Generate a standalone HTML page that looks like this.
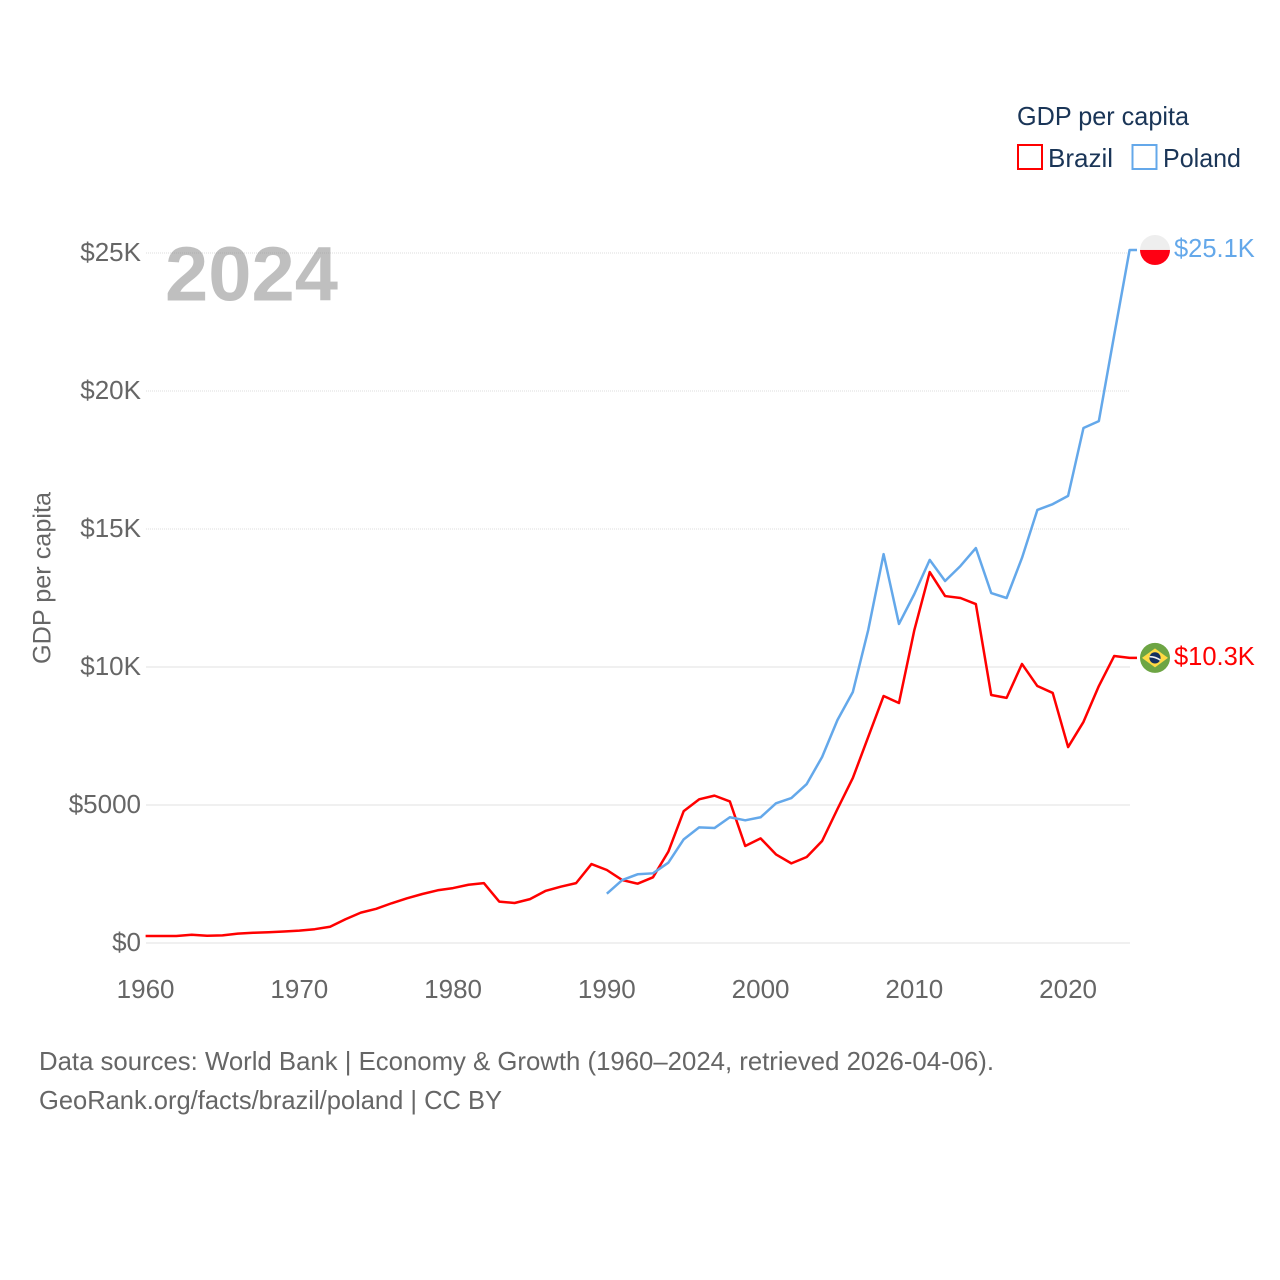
<!DOCTYPE html>
<html lang="en">
<head>
<meta charset="utf-8">
<title>GDP per capita: Brazil and Poland</title>
<style>
  html, body { margin: 0; padding: 0; background: #ffffff; }
  svg { display: block; font-family: "Liberation Sans", sans-serif; }
</style>
</head>
<body>
<svg id="chart" xmlns="http://www.w3.org/2000/svg" width="1280" height="1280" viewBox="0 0 1280 1280">
  <rect x="0" y="0" width="1280" height="1280" fill="#ffffff"/>
  <g id="grid"></g>
  <text x="165" y="300.5" font-size="77" font-weight="700" fill="#808080" fill-opacity="0.5" textLength="173" lengthAdjust="spacingAndGlyphs">2024</text>
  <g id="y-ticks"></g>
  <g id="x-ticks"></g>
  <text transform="translate(50.5 578) rotate(-90)" text-anchor="middle" font-size="25" fill="#666666" textLength="172" lengthAdjust="spacingAndGlyphs">GDP per capita</text>
  <g id="series"></g>
  <g>
    <text x="1017" y="125" font-size="26" fill="#1a3557" textLength="172" lengthAdjust="spacingAndGlyphs">GDP per capita</text>
    <rect x="1018" y="145" width="24" height="24" fill="none" stroke="#ff0000" stroke-width="2"/>
    <text x="1048" y="167" font-size="26" fill="#1a3557" textLength="65" lengthAdjust="spacingAndGlyphs">Brazil</text>
    <rect x="1132.5" y="145" width="24" height="24" fill="none" stroke="#64a8ea" stroke-width="2"/>
    <text x="1163" y="167" font-size="26" fill="#1a3557" textLength="78" lengthAdjust="spacingAndGlyphs">Poland</text>
  </g>
  <defs>
    <clipPath id="clip-poland"><circle cx="0" cy="0" r="15"/></clipPath>
  </defs>
  <g id="flag-poland">
    <g clip-path="url(#clip-poland)">
      <rect x="-15" y="-15" width="30" height="15" fill="#eeeeee"/>
      <rect x="-15" y="0" width="30" height="15" fill="#ff0013"/>
    </g>
  </g>
  <g id="flag-brazil">
    <circle cx="0" cy="0" r="15" fill="#6da544"/>
    <polygon points="-13,0 0,-9.5 13,0 0,9.5" fill="#ffda44"/>
    <circle cx="0" cy="0" r="5.6" fill="#14305f"/>
    <path d="M-5.4,-1.2 Q0,-1.4 5.2,2.2" fill="none" stroke="#f0f0f0" stroke-width="1.6"/>
  </g>
  <text id="label-poland" font-size="25.5" fill="#64a8ea"></text>
  <text id="label-brazil" font-size="25.5" fill="#ff0000"></text>
  <g>
    <text x="39" y="1070" font-size="26" fill="#666666" textLength="955" lengthAdjust="spacingAndGlyphs">Data sources: World Bank | Economy &amp; Growth (1960–2024, retrieved 2026-04-06).</text>
    <text x="39" y="1109" font-size="26" fill="#666666" textLength="463" lengthAdjust="spacingAndGlyphs">GeoRank.org/facts/brazil/poland | CC BY</text>
  </g>
</svg>
<script>
const brazilYears = [1960,1961,1962,1963,1964,1965,1966,1967,1968,1969,1970,1971,1972,1973,1974,1975,1976,1977,1978,1979,1980,1981,1982,1983,1984,1985,1986,1987,1988,1989,1990,1991,1992,1993,1994,1995,1996,1997,1998,1999,2000,2001,2002,2003,2004,2005,2006,2007,2008,2009,2010,2011,2012,2013,2014,2015,2016,2017,2018,2019,2020,2021,2022,2023,2024];
const brazilValues = [254,254,254,300,265,275,340,370,390,415,450,500,590,860,1100,1240,1440,1620,1775,1910,1990,2110,2170,1500,1450,1590,1885,2040,2170,2860,2645,2280,2150,2380,3310,4780,5205,5340,5130,3515,3790,3210,2885,3115,3695,4855,5980,7465,8950,8695,11340,13440,12570,12500,12280,8985,8880,10110,9310,9060,7100,8010,9310,10400,10330];
const polandYears = [1990,1991,1992,1993,1994,1995,1996,1997,1998,1999,2000,2001,2002,2003,2004,2005,2006,2007,2008,2009,2010,2011,2012,2013,2014,2015,2016,2017,2018,2019,2020,2021,2022,2023,2024];
const polandValues = [1786,2280,2490,2525,2910,3755,4190,4165,4555,4445,4555,5060,5250,5760,6740,8080,9095,11340,14090,11560,12645,13880,13115,13660,14310,12680,12500,13950,15690,15900,16200,18660,18910,22030,25110];
const yTickValues = [0,5000,10000,15000,20000,25000];
const yTickLabels = ["$0","$5000","$10K","$15K","$20K","$25K"];
const xTickValues = [1960,1970,1980,1990,2000,2010,2020];

const SVG_NS = "http://www.w3.org/2000/svg";
function xScale(year) { return 145.6 + (year - 1960) * (1129.6 - 145.6) / (2024 - 1960); }
function yScale(value) { return 943 - value * (943 - 253) / 25000; }
function make(tag, attrs, parent) {
  const el = document.createElementNS(SVG_NS, tag);
  for (const k in attrs) el.setAttribute(k, attrs[k]);
  parent.appendChild(el);
  return el;
}
function endLabel(v) { return "$" + (v / 1000).toFixed(1) + "K"; }

const gridGroup = document.getElementById("grid");
const yGroup = document.getElementById("y-ticks");
yTickValues.forEach(function (v, i) {
  const faint = v > 10000;
  const line = make("line", {
    x1: 146, x2: 1130,
    y1: yScale(v), y2: yScale(v),
    stroke: faint ? "#dedede" : "#ececec",
    "stroke-width": faint ? 1 : 1.5,
    "stroke-dasharray": faint ? "1 1" : "none"
  }, gridGroup);
  
  
  const label = make("text", {
    x: 141, y: yScale(v) + 8,
    "text-anchor": "end", "font-size": 26, fill: "#666666"
  }, yGroup);
  label.textContent = yTickLabels[i];
  
  
});

const xGroup = document.getElementById("x-ticks");
xTickValues.forEach(function (year) {
  const label = make("text", {
    x: xScale(year), y: 998,
    "text-anchor": "middle", "font-size": 26, fill: "#666666"
  }, xGroup);
  label.textContent = String(year);
  
  
});

const seriesGroup = document.getElementById("series");
function drawSeries(years, values, color, leaderEnd) {
  const pts = years.map(function (y, i) { return xScale(y).toFixed(2) + "," + yScale(values[i]).toFixed(2); });
  const last = values[values.length - 1];
  pts.push(leaderEnd + "," + yScale(last).toFixed(2));
  return make("polyline", {
    points: pts.join(" "), fill: "none", stroke: color,
    "stroke-width": 2.5, "stroke-linejoin": "round"
  }, seriesGroup);
}
const lineBrazil = drawSeries(brazilYears, brazilValues, "#ff0000", 1137);


const linePoland = drawSeries(polandYears, polandValues, "#64a8ea", 1137);



function placeEnd(flagId, labelId, values) {
  const last = values[values.length - 1];
  const cx = xScale(2024) + 25.4;
  const cy = yScale(last);
  document.getElementById(flagId).setAttribute("transform", "translate(" + cx + " " + cy + ")");
  const label = document.getElementById(labelId);
  label.setAttribute("x", cx + 19);
  label.setAttribute("y", cy + 7);
  label.textContent = endLabel(last);
}
placeEnd("flag-poland", "label-poland", polandValues);
placeEnd("flag-brazil", "label-brazil", brazilValues);
</script>
</body>
</html>
